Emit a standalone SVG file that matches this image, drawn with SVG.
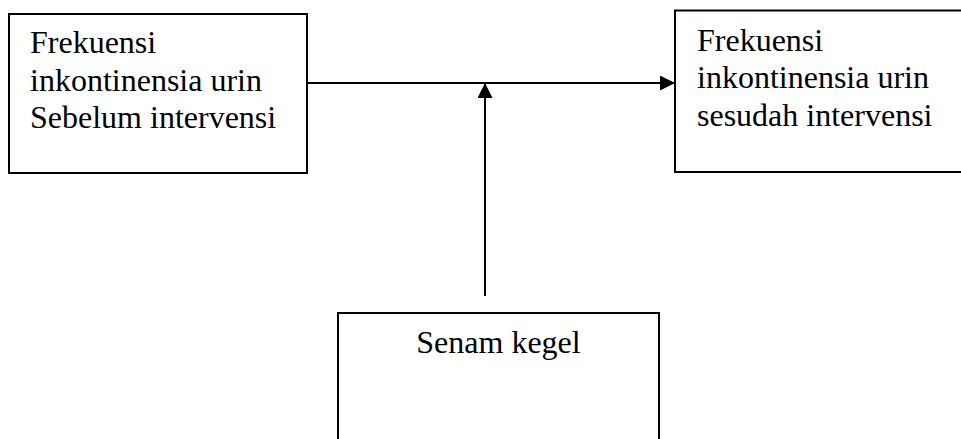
<svg xmlns="http://www.w3.org/2000/svg" width="961" height="439" viewBox="0 0 961 439">
<defs>
<style>
.box{fill:#fff;stroke:#000;stroke-width:2}
.t{font-family:"Liberation Serif","Times New Roman",serif;font-size:32px;fill:#000}
.c{stroke:#000;stroke-width:2;fill:none}
</style>
<marker id="ah" viewBox="0 0 15 15" refX="15" refY="7.5" markerWidth="15" markerHeight="15" markerUnits="userSpaceOnUse" orient="auto">
<path d="M0,0 L15,7.5 L0,15 Z" fill="#000"/>
</marker>
</defs>
<rect width="961" height="439" fill="#fff"/>
<g id="before">
<rect class="box" x="9" y="14" width="298" height="159"/>
<text class="t" x="30" y="53">Frekuensi</text>
<text class="t" x="30" y="90.5">inkontinensia urin</text>
<text class="t" x="30" y="128">Sebelum intervensi</text>
</g>
<g id="after">
<rect class="box" x="675" y="10.5" width="300" height="161.5"/>
<text class="t" x="697" y="50.5">Frekuensi</text>
<text class="t" x="697" y="88">inkontinensia urin</text>
<text class="t" x="697" y="125.5">sesudah intervensi</text>
</g>
<g id="kegel">
<rect class="box" x="338" y="313" width="321" height="140"/>
<text class="t" x="498.5" y="353" text-anchor="middle">Senam kegel</text>
</g>
<g id="connectors">
<line class="c" x1="307" y1="83" x2="675" y2="83" marker-end="url(#ah)"/>
<line class="c" x1="485" y1="296" x2="485" y2="83" marker-end="url(#ah)"/>
</g>
</svg>
